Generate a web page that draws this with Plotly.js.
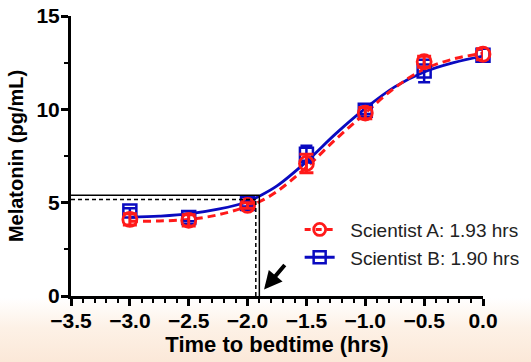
<!DOCTYPE html>
<html>
<head>
<meta charset="utf-8">
<script src="https://cdn.plot.ly/plotly-3.0.1.min.js"></script>
<style>
html,body{margin:0;padding:0;width:531px;height:362px;overflow:hidden;
background:linear-gradient(to bottom,#ffffff 0px,#ffffff 298px,#fdf1e6 328px,#fbe8d8 362px);}
#chart{width:531px;height:362px;}
</style>
</head>
<body>
<div id="chart"></div>
<script>
// Measured data
const timeX = [-3.0, -2.5, -2.0, -1.5, -1.0, -0.5, 0.0];
const sciA = [4.1, 4.05, 4.85, 7.1, 9.8, 12.55, 12.95];
const sciAErr = [0.3, 0.3, 0.15, 0.5, 0.3, 0.3, 0.3];
const sciB = [4.55, 4.2, 4.95, 7.6, 9.95, 12.05, 12.9];
const sciBErr = [0.15, 0.2, 0.15, 0.45, 0.2, 0.6, 0.3];

// Fitted curves
const fitX = [-3.0, -2.75, -2.5, -2.25, -2.0, -1.9, -1.75, -1.5, -1.25, -1.0, -0.75, -0.5, -0.25, 0.0];
const fitA = [4.0, 4.02, 4.1, 4.35, 4.8, 5.05, 5.6, 6.9, 8.4, 9.8, 11.15, 12.15, 12.7, 13.0];
const fitB = [4.22, 4.28, 4.4, 4.65, 5.05, 5.35, 5.9, 7.2, 8.7, 10.05, 11.2, 12.0, 12.5, 12.85];

// Onset thresholds
const onsetA = {x: -1.93, y: 5.17};
const onsetB = {x: -1.90, y: 5.4};

const legendA = '&nbsp;&nbsp;Scientist A: 1.93 hrs';
const legendB = '&nbsp;&nbsp;Scientist B: 1.90 hrs';

const red = '#ff1a1a';
const blue = '#0a0ac0';

const traces = [];

traces.push({
  x: fitX, y: fitB, mode:'lines', line:{color:blue, width:2.8, shape:'spline'},
  showlegend:false, hoverinfo:'skip', cliponaxis:false
});
traces.push({
  x: fitX, y: fitA, mode:'lines', line:{color:red, width:3, dash:'8px,5px', shape:'spline'},
  showlegend:false, hoverinfo:'skip', cliponaxis:false
});
traces.push({
  x: timeX, y: sciB, mode:'markers', name: legendB,
  marker:{symbol:'square-open', size:13, color:blue, line:{width:2.5, color:blue}},
  error_y:{type:'data', array:sciBErr, visible:true, color:blue, thickness:2.5, width:6},
  showlegend:false, cliponaxis:false
});
traces.push({
  x: timeX, y: sciA, mode:'markers', name: legendA,
  marker:{symbol:'circle-open', size:14, color:red, line:{width:2.8, color:red}},
  error_y:{type:'data', array:sciAErr, visible:true, color:red, thickness:3, width:7},
  showlegend:false, cliponaxis:false
});
// legend entries
traces.push({
  x:[null], y:[null], mode:'lines+markers', name: legendA,
  line:{color:red, width:3, dash:'6px,5px'},
  marker:{symbol:'circle-open', size:12, color:red, line:{width:2.8, color:red}}
});
traces.push({
  x:[null], y:[null], mode:'lines+markers', name: legendB,
  line:{color:blue, width:3},
  marker:{symbol:'square-open', size:12, color:blue, line:{width:2.5, color:blue}}
});

const shapes = [
  {type:'line', xref:'x', yref:'y', x0:-3.5, x1:onsetB.x, y0:onsetB.y, y1:onsetB.y, line:{color:'#000', width:1.5}},
  {type:'line', xref:'x', yref:'y', x0:onsetB.x, x1:onsetB.x, y0:0, y1:onsetB.y, line:{color:'#000', width:1.5}},
  {type:'line', xref:'x', yref:'y', x0:-3.5, x1:onsetA.x, y0:onsetA.y, y1:onsetA.y, line:{color:'#000', width:1.5, dash:'4px,3px'}},
  {type:'line', xref:'x', yref:'y', x0:onsetA.x, x1:onsetA.x, y0:0, y1:onsetA.y, line:{color:'#000', width:1.5, dash:'4px,3px'}}
];

const layout = {
  width:531, height:362,
  margin:{l:71, r:48, t:16, b:66, autoexpand:false},
  paper_bgcolor:'rgba(0,0,0,0)', plot_bgcolor:'rgba(0,0,0,0)',
  font:{family:'Liberation Sans, Arial, sans-serif', color:'#000'},
  showlegend:true,
  legend:{x:0.555, y:0.305, xanchor:'left', yanchor:'top', bgcolor:'rgba(0,0,0,0)',
    font:{size:19, color:'#222'}, tracegroupgap:0, itemwidth:30},
  xaxis:{
    range:[-3.5, 0], autorange:false, dtick:0.5, tick0:-3.5, tickformat:'.1f', automargin:false,
    showgrid:false, zeroline:false, showline:true, linecolor:'#000', linewidth:3,
    ticks:'outside', ticklen:7, tickwidth:3, tickcolor:'#000', ticklabelstandoff:-3,
    minor:{dtick:0.1, ticks:'outside', ticklen:4, tickwidth:2, tickcolor:'#000', showgrid:false},
    tickfont:{size:21, family:'Liberation Sans, Arial, sans-serif', weight:'bold'},
    title:{text:'<b>Time to bedtime (hrs)</b>', font:{size:22}, standoff:4}
  },
  yaxis:{
    range:[0, 15], autorange:false, dtick:5, automargin:false,
    showgrid:false, zeroline:false, showline:true, linecolor:'#000', linewidth:3,
    ticks:'outside', ticklen:7, tickwidth:3, tickcolor:'#000', ticklabelstandoff:-3,
    minor:{dtick:2.5, ticks:'outside', ticklen:4, tickwidth:2, tickcolor:'#000', showgrid:false},
    tickfont:{size:21, family:'Liberation Sans, Arial, sans-serif', weight:'bold'},
    title:{text:'<b>Melatonin (pg/mL)</b>', font:{size:20}, standoff:8}
  },
  shapes: shapes,
  annotations:[{
    x:-1.86, y:0.35, xref:'x', yref:'y', ax:22, ay:-26, axref:'pixel', ayref:'pixel',
    showarrow:true, arrowhead:2, arrowsize:0.9, arrowwidth:4, arrowcolor:'#000', text:''
  }]
};

Plotly.newPlot('chart', traces, layout, {staticPlot:true, displayModeBar:false});
</script>
</body>
</html>
